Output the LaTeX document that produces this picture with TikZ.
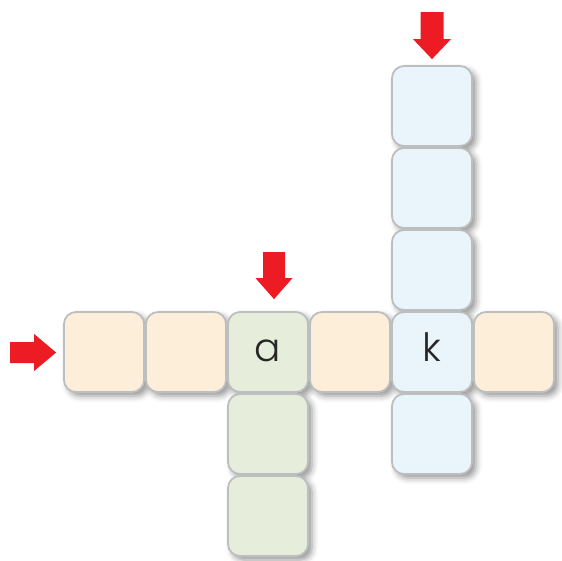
\documentclass[tikz,border=0pt]{standalone}
\usepackage{fontspec}
\setmainfont{Poppins Light}
\usetikzlibrary{shadows.blur,calc}
\definecolor{cellorange}{HTML}{FDEEDA}
\definecolor{cellgreen}{HTML}{E6EDDB}
\definecolor{cellblue}{HTML}{EAF4FB}
\definecolor{cellborder}{HTML}{BCBEC0}
\definecolor{arrowred}{HTML}{ED1C24}
\begin{document}
\begin{tikzpicture}[x=1pt,y=-1pt,
  cellbase/.style={rectangle, minimum width=80pt, minimum height=80pt, inner sep=0pt, rounded corners=12pt},
  shadowcell/.style={cellbase, fill=white, draw=none, blur shadow={shadow xshift=4pt, shadow yshift=-4pt, shadow blur radius=6pt, shadow opacity=42}},
  cell/.style={cellbase, draw=cellborder, line width=1.8pt, fill=#1},
  letter/.style={font=\fontsize{39}{39}\selectfont, text=black!85, anchor=base},
  redarrow/.style={fill=arrowred, draw=none}]
\useasboundingbox (0,0) rectangle (562,560);
% shadows first
\foreach \x/\y in {104/352,186/352,268/352,350/352,432/352,514/352,432/106,432/188,432/270,432/434,268/434,268/516}
  \node[shadowcell] at (\x,\y) {};
% cells
\node[cell=cellorange] (h1) at (104,352) {};
\node[cell=cellorange] (h2) at (186,352) {};
\node[cell=cellgreen]  (ca) at (268,352) {};
\node[cell=cellorange] (h4) at (350,352) {};
\node[cell=cellblue]   (ck) at (432,352) {};
\node[cell=cellorange] (h6) at (514,352) {};
\node[cell=cellblue]   (v1) at (432,106) {};
\node[cell=cellblue]   (v2) at (432,188) {};
\node[cell=cellblue]   (v3) at (432,270) {};
\node[cell=cellblue]   (v5) at (432,434) {};
\node[cell=cellgreen]  (g2) at (268,434) {};
\node[cell=cellgreen]  (g3) at (268,516) {};
% letters
\node[letter] (la) at ($(ca.center)+(0,9)$) {a};
\node[letter] (lk) at ($(ck.center)+(0,9)$) {k};
% arrows
\fill[redarrow, shift={($(h1.west)+(-7,0.5)$)}]
  (-46,-10.5) -- (-22,-10.5) -- (-22,-18.5) -- (0,0) -- (-22,18.5) -- (-22,10.5) -- (-46,10.5) -- cycle;
\fill[redarrow, shift={($(ca.north)+(6,-12)$)}]
  (-11,-47) -- (11,-47) -- (11,-21) -- (18.5,-21) -- (0,0) -- (-18.5,-21) -- (-11,-21) -- cycle;
\fill[redarrow, shift={($(v1.north)+(0,-6)$)}]
  (-11.5,-47) -- (11.5,-47) -- (11.5,-20) -- (19,-20) -- (0,0) -- (-19,-20) -- (-11.5,-20) -- cycle;
\end{tikzpicture}
\end{document}
